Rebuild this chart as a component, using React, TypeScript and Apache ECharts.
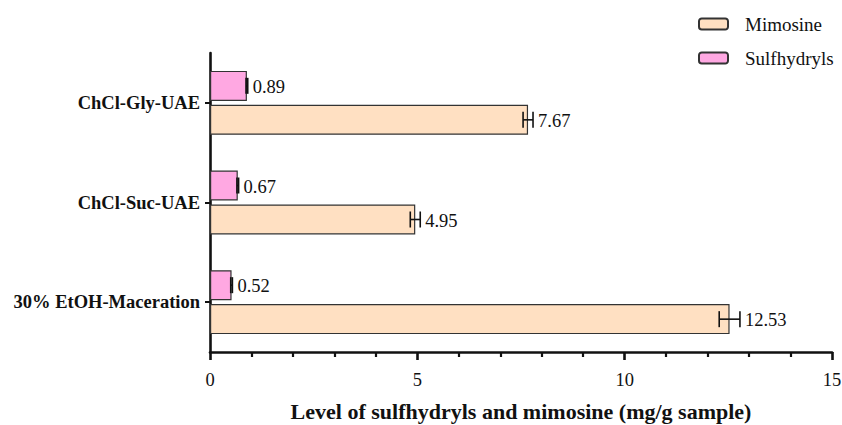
import React, { useEffect, useRef } from "react";
import * as echarts from "echarts";

const categories = ["30% EtOH-Maceration", "ChCl-Suc-UAE", "ChCl-Gly-UAE"];
const mimosine = [12.53, 4.95, 7.67];
const mimosineErr = [0.25, 0.12, 0.12];
const sulfhydryls = [0.52, 0.67, 0.89];
const sulfhydrylsErr = [0.02, 0.02, 0.02];
const xTicks = { min: 0, max: 15, interval: 5 };

const FONT = "Liberation Serif";

function errorSeries(name: string, values: number[], errs: number[], offset: number) {
  return {
    type: "custom",
    name: name + "-err",
    z: 5,
    silent: true,
    data: values.map((v, i) => [v, i, errs[i]]),
    encode: { x: 0, y: 1 },
    renderItem: (params: any, api: any) => {
      const v = api.value(0);
      const c = api.value(1);
      const e = api.value(2);
      const pLo = api.coord([v - e, c]);
      const pHi = api.coord([v + e, c]);
      const y = pLo[1] + offset;
      const cap = 8;
      return {
        type: "group",
        children: [
          { type: "line", shape: { x1: pLo[0], y1: y, x2: pHi[0], y2: y }, style: { stroke: "#111", lineWidth: 1.6 } },
          { type: "line", shape: { x1: pLo[0], y1: y - cap, x2: pLo[0], y2: y + cap }, style: { stroke: "#111", lineWidth: 1.6 } },
          { type: "line", shape: { x1: pHi[0], y1: y - cap, x2: pHi[0], y2: y + cap }, style: { stroke: "#111", lineWidth: 1.6 } },
          {
            type: "text",
            x: pHi[0] + 5,
            y: y + 1,
            style: {
              text: v.toFixed(2),
              fill: "#111",
              font: `18.5px "${FONT}"`,
              verticalAlign: "middle",
              align: "left",
            },
          },
        ],
      };
    },
  };
}

export default function App() {
  const ref = useRef<HTMLDivElement>(null);
  useEffect(() => {
    document.body.style.margin = "0";
    const chart = echarts.init(ref.current!, null, { renderer: "svg" });
    chart.setOption({
      animation: false,
      textStyle: { fontFamily: FONT },
      legend: {
        orient: "vertical",
        left: 693,
        top: 9,
        itemWidth: 29,
        itemHeight: 11,
        itemGap: 14,
        data: ["Mimosine", "Sulfhydryls"],
        textStyle: { fontFamily: FONT, fontSize: 19, color: "#111", lineHeight: 20, padding: [0, 0, 0, 12] },
      },
      grid: { left: 210, right: 10, top: 53, bottom: 73, containLabel: false, outerBoundsMode: "none" },
      xAxis: {
        type: "value",
        min: xTicks.min,
        max: xTicks.max,
        interval: xTicks.interval,
        name: "Level of sulfhydryls and mimosine (mg/g sample)",
        nameLocation: "middle",
        nameGap: 59,
        nameTextStyle: { fontFamily: FONT, fontSize: 22, fontWeight: "bold", color: "#111", verticalAlign: "middle" },
        axisLine: { show: true, lineStyle: { color: "#111", width: 2.6 } },
        axisTick: { show: true, length: 8, lineStyle: { color: "#111", width: 2.6 } },
        minorTick: { show: true, splitNumber: 5, length: 5, lineStyle: { color: "#111", width: 2.2 } },
        splitLine: { show: false },
        axisLabel: { fontFamily: FONT, fontSize: 18.5, color: "#111", margin: 18 },
      },
      yAxis: {
        type: "category",
        data: categories,
        axisLine: { show: true, lineStyle: { color: "#111", width: 2.6 } },
        axisTick: { show: true, alignWithLabel: true, length: 5, lineStyle: { color: "#111", width: 2 } },
        axisLabel: { fontFamily: FONT, fontSize: 18.5, fontWeight: "bold", color: "#111", margin: 10 },
      },
      series: [
        {
          name: "Sulfhydryls",
          type: "bar",
          data: sulfhydryls,
          barWidth: 30,
          barGap: "13%",
          itemStyle: { color: "#FFA8E2", borderColor: "#333", borderWidth: 1.2 },
        },
        {
          name: "Mimosine",
          type: "bar",
          data: mimosine,
          barWidth: 30,
          barGap: "13%",
          itemStyle: { color: "#FFE0C2", borderColor: "#333", borderWidth: 1.2 },
        },
        errorSeries("Mimosine", mimosine, mimosineErr, 17),
        errorSeries("Sulfhydryls", sulfhydryls, sulfhydrylsErr, -17),
      ],
    });
    return () => chart.dispose();
  }, []);
  return <div ref={ref} style={{ width: 842, height: 425 }} />;
}
